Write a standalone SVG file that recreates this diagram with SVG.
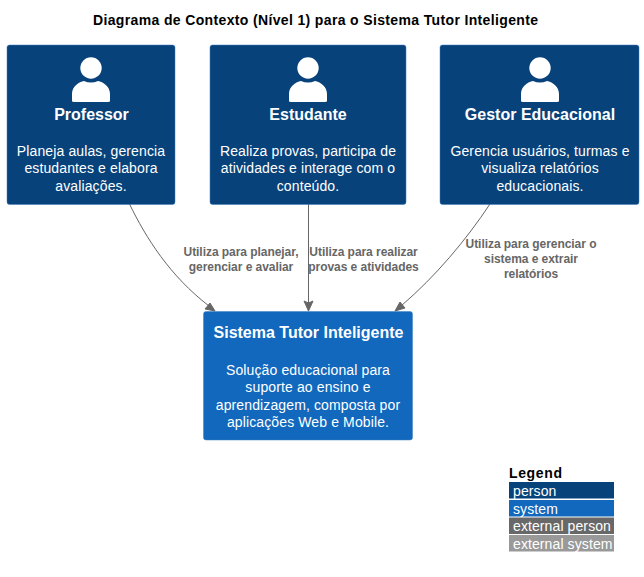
<svg xmlns="http://www.w3.org/2000/svg" width="644" height="577" viewBox="0 0 644 577">
<style>
text{font-family:"Liberation Sans",Arial,sans-serif;text-anchor:middle}
.t{font-size:14px;font-weight:bold;fill:#000}
.n{font-size:16px;font-weight:bold;fill:#fff}
.d{font-size:14px;fill:#fff;letter-spacing:.12px}
.l{font-size:12px;font-weight:bold;fill:#666;letter-spacing:-.05px}
.p{fill:#08427b;stroke:#3c7fc0;stroke-width:.5}
.s{fill:#1168bd;stroke:#3c7fc0;stroke-width:.5}
.c{fill:none;stroke:#666;stroke-width:1}
.a{fill:#666;stroke:#666}
.lg{font-size:14px;fill:#fff;text-anchor:start;letter-spacing:.1px}
</style>
<defs>
<g id="u"><circle cx="0" cy="11" r="10.7" fill="#fff"/><path d="M-19 44V37C-19 29-12 25-7 24Q0 27 7 24C12 25 19 29 19 37V44Q19 45 17 45H-17Q-19 45-19 44Z" fill="#fff"/></g>
</defs>
<text class="t" x="315.500" y="25" textLength="445" lengthAdjust="spacing">Diagrama de Contexto (Nível 1) para o Sistema Tutor Inteligente</text>
<g id="connectors">
<path class="c" d="M129.500 204C146 238 170 276 209 306"/>
<path class="a" d="M215 311L205 309L210 303Z"/>
<path class="c" d="M308.500 204V304"/>
<path class="a" d="M308.500 311L304 301L308.500 303L313 301Z"/>
<path class="c" d="M490 204C466 240 436 276 401 306"/>
<path class="a" d="M395 311L400 302L405 308Z"/>
<text class="l" x="241" y="256">Utiliza para planejar,</text>
<text class="l" x="241" y="271">gerenciar e avaliar</text>
<text class="l" x="363.500" y="256">Utiliza para realizar</text>
<text class="l" x="363.500" y="271">provas e atividades</text>
<text class="l" x="531" y="248">Utiliza para gerenciar o</text>
<text class="l" x="531" y="263">sistema e extrair</text>
<text class="l" x="531" y="278">relatórios</text>
</g>
<g id="professor">
<rect class="p" x="7" y="45" width="168" height="159.500" rx="2.500"/>
<use href="#u" x="91" y="57"/>
<text class="n" x="91.500" y="120">Professor</text>
<text class="d" x="91" y="156">Planeja aulas, gerencia</text>
<text class="d" x="91" y="173">estudantes e elabora</text>
<text class="d" x="91" y="191">avaliações.</text>
</g>
<g id="estudante">
<rect class="p" x="210" y="45" width="196" height="159.500" rx="2.500"/>
<use href="#u" x="308" y="57"/>
<text class="n" x="308" y="120">Estudante</text>
<text class="d" x="308" y="156">Realiza provas, participa de</text>
<text class="d" x="308" y="173">atividades e interage com o</text>
<text class="d" x="308" y="191">conteúdo.</text>
</g>
<g id="gestor">
<rect class="p" x="440" y="45" width="199" height="159.500" rx="2.500"/>
<use href="#u" x="540" y="57"/>
<text class="n" x="540" y="120">Gestor Educacional</text>
<text class="d" x="540" y="156">Gerencia usuários, turmas e</text>
<text class="d" x="540" y="173">visualiza relatórios</text>
<text class="d" x="540" y="191">educacionais.</text>
</g>
<g id="sistema">
<rect class="s" x="203.500" y="311.500" width="209" height="128.500" rx="2.500"/>
<text class="n" x="308.500" y="338">Sistema Tutor Inteligente</text>
<text class="d" x="308" y="375">Solução educacional para</text>
<text class="d" x="308" y="392">suporte ao ensino e</text>
<text class="d" x="308" y="410">aprendizagem, composta por</text>
<text class="d" x="308" y="427">aplicações Web e Mobile.</text>
</g>
<g id="legend">
<text x="509" y="478" style="font-size:14px;font-weight:bold;text-anchor:start" textLength="53">Legend</text>
<rect x="509" y="482" width="105" height="16.500" fill="#08427b"/>
<text class="lg" x="513" y="496">person</text>
<rect x="509" y="500" width="105" height="16.500" fill="#1168bd"/>
<text class="lg" x="513" y="514">system</text>
<rect x="509" y="517.500" width="105" height="16.500" fill="#686868"/>
<text class="lg" x="513" y="531">external person</text>
<rect x="509" y="535" width="105" height="16.500" fill="#999"/>
<text class="lg" x="513" y="549">external system</text>
</g>
</svg>
